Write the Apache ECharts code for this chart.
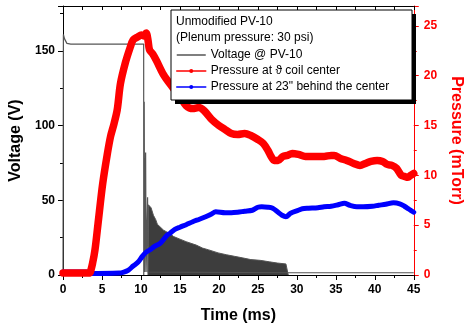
<!DOCTYPE html>
<html>
<head>
<meta charset="utf-8">
<script src="https://cdn.jsdelivr.net/npm/echarts@6/dist/echarts.min.js"></script>
<style>
  html, body { margin: 0; padding: 0; background: #fff; }
  #chart { width: 472px; height: 329px; }
</style>
</head>
<body>
<div id="chart"></div>
<script>
// Voltage @ PV-10 (V): charging plateau, breakdown spike, then the tail
const voltageTime = [0, 0.05, 0.2, 0.5, 1, 10.35, 10.36, 10.42, 10.47, 10.6, 10.66, 10.85, 10.9, 28.9, 28.95, 45];
const voltageValue = [0, 161, 158, 155, 154.5, 154.5, 0, 116, 2, 82, 2, 52, 2, 1.5, 1.5, 1.5];

// envelope of the dense ringing after breakdown (V)
const ringTime = [10.9, 10.95, 11.3, 11.6, 11.9, 12.1, 12.9, 13.75, 14.2, 15, 15.8, 17.1, 17.9, 18.7, 19.9, 21, 22, 23, 24.1, 25.3, 26.5, 27.5, 28.6, 28.85, 28.9];
const ringValue = [0, 47, 45, 40, 37, 34, 30, 27.5, 25.7, 24, 22.3, 20, 18, 16.8, 14.8, 13.5, 12.5, 11.5, 10.3, 9.8, 8.8, 8, 7.4, 7, 0];

// Pressure at coil center (mTorr)
const centerTime = [0, 3.3, 3.5, 3.8, 4.1, 4.5, 5.1, 5.7, 6.1, 6.55, 6.96, 7.37, 8.0, 8.6, 9.0, 9.6, 10.05, 10.4, 10.67, 10.9, 11.1, 11.5, 12.0, 12.9, 14, 15.0, 15.8, 16.65, 17.4, 18.1, 19.1, 20.0, 20.8, 21.6, 22.4, 23.3, 24.1, 25.0, 25.7, 26.3, 26.7, 27.1, 27.6, 28.2, 28.8, 29.4, 30.2, 31.1, 32.0, 32.7, 33.5, 34.4, 34.8, 35.6, 36.4, 37.3, 38.1, 38.8, 39.5, 40.3, 41.0, 41.6, 42.2, 42.8, 43.4, 43.8, 44.25, 44.6, 45];
const centerValue = [0.2, 0.2, 0.3, 1.2, 2.5, 5.2, 9.2, 12.2, 13.9, 15.2, 16.6, 19.2, 21.3, 22.8, 23.6, 23.9, 24.1, 24.0, 24.3, 23.6, 22.6, 22.2, 21.5, 20.1, 18.9, 17.9, 17.0, 16.7, 16.8, 16.5, 15.6, 15.0, 14.6, 14.2, 14.1, 14.2, 14.0, 13.6, 13.2, 12.5, 11.9, 11.5, 11.5, 11.9, 12.0, 12.2, 12.1, 11.9, 11.9, 11.9, 11.9, 12.0, 12.0, 11.7, 11.5, 11.2, 11.0, 11.2, 11.4, 11.5, 11.4, 11.1, 11.0, 10.7, 10.0, 9.9, 9.8, 10.0, 10.2];

// Pressure 23" behind the center (mTorr)
const behindTime = [0, 3, 3.3, 7.2, 7.8, 8.4, 9.0, 9.64, 10.2, 10.67, 11.3, 11.7, 12.5, 13.35, 13.75, 14.3, 15.0, 15.8, 16.65, 17.5, 18.3, 19.0, 19.6, 20.8, 21.6, 22.4, 23.3, 24.3, 25.0, 25.5, 26.3, 26.9, 27.6, 28.1, 28.6, 29.2, 30.2, 30.7, 31.5, 32.7, 33.5, 34.4, 35.3, 36.1, 36.8, 37.7, 38.5, 39.7, 40.5, 41.4, 42.4, 43.2, 43.8, 44.4, 45];
const behindValue = [0.3, 0.3, 0.15, 0.2, 0.3, 0.5, 0.9, 1.3, 1.9, 2.3, 2.6, 2.85, 3.2, 4.0, 4.2, 4.55, 4.8, 5.05, 5.35, 5.6, 5.85, 6.1, 6.35, 6.25, 6.25, 6.3, 6.4, 6.5, 6.8, 6.85, 6.8, 6.7, 6.3, 6.0, 5.85, 6.2, 6.5, 6.65, 6.7, 6.75, 6.85, 6.9, 7.05, 7.2, 7.0, 6.85, 6.85, 6.9, 7.0, 7.1, 7.25, 7.15, 6.9, 6.6, 6.3];

const xTicks = { min: 0, max: 45, interval: 5 };

const pairs = (xs, ys) => xs.map((x, i) => [x, ys[i]]);

const FONT = "'Liberation Sans', Arial, sans-serif";
const labelStyle = { color: "#000", fontFamily: FONT, fontWeight: "bold", fontSize: 12 };
const nameStyle = { color: "#000", fontFamily: FONT, fontWeight: "bold", fontSize: 16 };

const chart = echarts.init(document.getElementById("chart"), null, { renderer: "canvas" });

chart.setOption({
  animation: false,
  backgroundColor: "#fff",
  grid: { left: 62, right: 46, top: 6, bottom: 54 },
  xAxis: [
    {
      type: "value",
      ...xTicks,
      name: "Time (ms)",
      nameLocation: "middle",
      nameGap: 33,
      nameTextStyle: nameStyle,
      axisLine: { onZero: false, lineStyle: { color: "#000", width: 1 } },
      axisTick: { inside: false, length: 5, lineStyle: { color: "#000" } },
      minorTick: { show: true, splitNumber: 2, length: 3, lineStyle: { color: "#000" } },
      axisLabel: { ...labelStyle, margin: 9 },
      splitLine: { show: false },
    },
    {
      type: "value",
      position: "top",
      ...xTicks,
      axisLine: { show: true, onZero: false, lineStyle: { color: "#000", width: 1 } },
      axisTick: { inside: true, length: 4, lineStyle: { color: "#000" } },
      minorTick: { show: true, splitNumber: 2, length: 4, lineStyle: { color: "#000" } },
      axisLabel: { show: false },
      splitLine: { show: false },
    },
  ],
  yAxis: [
    {
      type: "value",
      min: 0,
      max: 180,
      interval: 50,
      name: "Voltage (V)",
      nameLocation: "middle",
      nameGap: 39,
      nameTextStyle: nameStyle,
      axisLine: { show: true, onZero: false, lineStyle: { color: "#000", width: 1 } },
      axisTick: { show: true, inside: false, length: 5, lineStyle: { color: "#000" } },
      minorTick: { show: true, splitNumber: 2, length: 3, lineStyle: { color: "#000" } },
      axisLabel: { ...labelStyle, margin: 8, showMaxLabel: false },
      splitLine: { show: false },
    },
    {
      type: "value",
      position: "right",
      min: 0,
      max: 27,
      interval: 5,
      name: "Pressure (mTorr)",
      nameLocation: "middle",
      nameGap: 31,
      nameRotate: -90,
      nameTextStyle: { ...nameStyle, color: "#ff0000" },
      axisLine: { show: true, onZero: false, lineStyle: { color: "#ff0000", width: 1 } },
      axisTick: { show: true, inside: false, length: 5, lineStyle: { color: "#ff0000" } },
      minorTick: { show: true, splitNumber: 2, length: 3, lineStyle: { color: "#ff0000" } },
      axisLabel: { ...labelStyle, color: "#ff0000", margin: 10, showMaxLabel: false },
      splitLine: { show: false },
    },
  ],
  legend: {
    data: [
      { name: "Voltage @ PV-10", itemStyle: { opacity: 0 } },
      "Pressure at ϑ coil center",
      "Pressure at 23\" behind the center",
    ],
    orient: "vertical",
    left: 176,
    top: 49,
    z: 100,
    itemWidth: 29,
    itemHeight: 5,
    itemGap: 4,
    padding: 0,
    textStyle: { fontFamily: FONT, fontSize: 12, lineHeight: 12, color: "#000" },
    lineStyle: { width: 1.5 },
    selectedMode: false,
  },
  graphic: [
    { type: "rect", z: 50, shape: { x: 175, y: 14, width: 241, height: 90 }, style: { fill: "#000" } },
    { type: "rect", z: 51, shape: { x: 171, y: 10, width: 241, height: 90 }, style: { fill: "#fff", stroke: "#000", lineWidth: 1 } },
    { type: "text", z: 52, x: 176, y: 22, style: { text: "Unmodified PV-10", font: "12px " + FONT, fill: "#000", verticalAlign: "middle" } },
    { type: "text", z: 52, x: 176, y: 38, style: { text: "(Plenum pressure: 30 psi)", font: "12px " + FONT, fill: "#000", verticalAlign: "middle" } },
  ],
  series: [
    {
      name: "Voltage @ PV-10",
      type: "line",
      data: pairs(voltageTime, voltageValue),
      symbol: "none",
      color: "#555",
      lineStyle: { color: "#555", width: 1.2 },
      z: 2,
    },
    {
      name: "ringing",
      type: "line",
      data: pairs(ringTime, ringValue),
      symbol: "none",
      color: "#3d3d3d",
      lineStyle: { color: "#555", width: 1 },
      areaStyle: { color: "#3d3d3d", opacity: 1 },
      z: 2,
    },
    {
      name: "Pressure at ϑ coil center",
      type: "line",
      yAxisIndex: 1,
      data: pairs(centerTime, centerValue),
      symbol: "circle",
      symbolSize: 4,
      showSymbol: false,
      color: "#ff0000",
      smooth: 0.3,
      lineStyle: { color: "#ff0000", width: 7.5, cap: "round", join: "round" },
      z: 4,
    },
    {
      name: "Pressure at 23\" behind the center",
      type: "line",
      yAxisIndex: 1,
      data: pairs(behindTime, behindValue),
      symbol: "circle",
      symbolSize: 4,
      showSymbol: false,
      color: "#0000ff",
      smooth: 0.3,
      lineStyle: { color: "#0000ff", width: 5, cap: "round", join: "round" },
      z: 3,
    },
  ],
});
</script>
</body>
</html>
